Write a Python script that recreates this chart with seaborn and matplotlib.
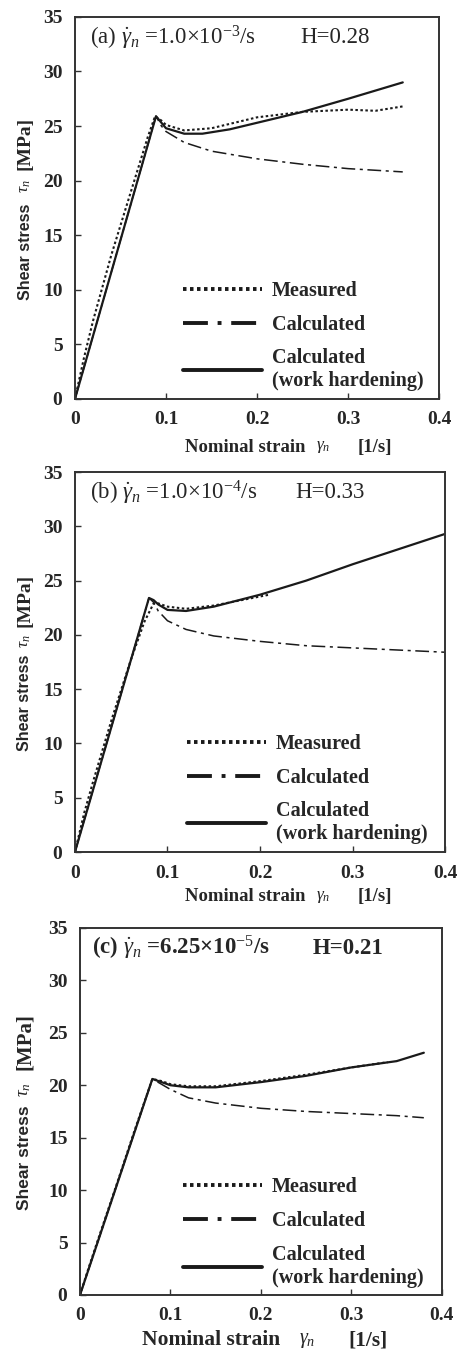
import numpy as np
import pandas as pd
import matplotlib
matplotlib.use("Agg")
import matplotlib.pyplot as plt
import seaborn as sns

# ---------------------------------------------------------------
# Data (strain [-], stress [MPa])
# ---------------------------------------------------------------
# (a) rate 1.0e-3/s, H=0.28
a_meas_x = [0, 0.01, 0.02, 0.04, 0.06, 0.08, 0.088, 0.095, 0.10, 0.12, 0.15, 0.18, 0.20, 0.25, 0.30, 0.33, 0.36]
a_meas_y = [0, 3.8, 7.2, 13.2, 18.6, 24.0, 25.9, 25.5, 25.1, 24.6, 24.8, 25.4, 25.8, 26.3, 26.5, 26.4, 26.8]
a_calc_x = [0, 0.089, 0.095, 0.10, 0.12, 0.15, 0.20, 0.25, 0.30, 0.36]
a_calc_y = [0, 25.9, 25.0, 24.5, 23.5, 22.7, 22.0, 21.5, 21.1, 20.8]
a_hard_x = [0, 0.089, 0.095, 0.10, 0.12, 0.14, 0.17, 0.20, 0.25, 0.30, 0.36]
a_hard_y = [0, 25.9, 25.3, 24.8, 24.3, 24.3, 24.7, 25.3, 26.3, 27.5, 29.0]

# (b) rate 1.0e-4/s, H=0.33
b_meas_x = [0, 0.01, 0.02, 0.04, 0.06, 0.075, 0.085, 0.09, 0.10, 0.12, 0.15, 0.18, 0.21]
b_meas_y = [0, 3.6, 6.6, 12.3, 17.6, 21.2, 22.9, 22.9, 22.6, 22.4, 22.7, 23.2, 23.7]
b_calc_x = [0, 0.08, 0.085, 0.09, 0.10, 0.12, 0.15, 0.20, 0.25, 0.30, 0.35, 0.40]
b_calc_y = [0, 23.4, 23.0, 22.2, 21.3, 20.5, 19.9, 19.4, 19.0, 18.8, 18.6, 18.4]
b_hard_x = [0, 0.08, 0.085, 0.09, 0.10, 0.12, 0.15, 0.20, 0.25, 0.30, 0.35, 0.40]
b_hard_y = [0, 23.4, 23.2, 22.8, 22.3, 22.2, 22.6, 23.7, 25.0, 26.5, 27.9, 29.3]

# (c) rate 6.25e-5/s, H=0.21
c_meas_x = [0, 0.01, 0.02, 0.04, 0.06, 0.08, 0.09, 0.10, 0.12, 0.15, 0.20, 0.25, 0.30, 0.34]
c_meas_y = [0, 2.7, 5.3, 10.4, 15.6, 20.6, 20.4, 20.1, 19.9, 19.9, 20.4, 21.0, 21.7, 22.2]
c_calc_x = [0, 0.08, 0.09, 0.10, 0.12, 0.15, 0.20, 0.25, 0.30, 0.35, 0.38]
c_calc_y = [0, 20.6, 20.1, 19.6, 18.8, 18.3, 17.8, 17.5, 17.3, 17.1, 16.9]
c_hard_x = [0, 0.08, 0.09, 0.10, 0.12, 0.15, 0.20, 0.25, 0.30, 0.35, 0.38]
c_hard_y = [0, 20.6, 20.3, 20.0, 19.8, 19.8, 20.3, 20.9, 21.7, 22.3, 23.1]

rate_labels = [
    r"(a) $\dot{\gamma}_n$ =1.0×10$^{-3}$/s",
    r"(b) $\dot{\gamma}_n$ =1.0×10$^{-4}$/s",
    r"(c) $\dot{\gamma}_n$ =6.25×10$^{-5}$/s",
]
h_labels = ["H=0.28", "H=0.33", "H=0.21"]
series_labels = ["Measured", "Calculated", "Calculated\n(work hardening)"]

panels = [
    (a_meas_x, a_meas_y, a_calc_x, a_calc_y, a_hard_x, a_hard_y),
    (b_meas_x, b_meas_y, b_calc_x, b_calc_y, b_hard_x, b_hard_y),
    (c_meas_x, c_meas_y, c_calc_x, c_calc_y, c_hard_x, c_hard_y),
]

# ---------------------------------------------------------------
# Layout (figure fractions / axes fractions)
# ---------------------------------------------------------------
boxes = [
    [0.164, 0.7073, 0.797, 0.2803],
    [0.164, 0.3749, 0.810, 0.2788],
    [0.175, 0.0499, 0.792, 0.2693],
]
title_weight = ["normal", "normal", "bold"]
title_size = [16.5, 16.5, 16.5]
title_x = [0.041, 0.041, 0.033]
h_x = [0.618, 0.595, 0.644]
ylab_x = [-0.137, -0.135, -0.152]
ylab_y = [(0.385, 0.558, 0.668), (0.392, 0.555, 0.663), (0.373, 0.560, 0.690)]
ylab_size = [11.5, 11.5, 12.5]
xlab_x = [(0.467, 0.681, 0.824), (0.459, 0.670, 0.811), (0.362, 0.627, 0.796)]
xlab_y = [-0.126, -0.118, -0.123]
xlab_size = [13.5, 13.5, 15.5]
leg_x = [0.297, 0.303, 0.285]

sns.set_style("ticks")
plt.rcParams["font.family"] = ["Liberation Serif", "DejaVu Serif"]
plt.rcParams["mathtext.fontset"] = "custom"
plt.rcParams["mathtext.rm"] = "Liberation Serif"
plt.rcParams["mathtext.it"] = "Liberation Serif:italic"
plt.rcParams["mathtext.bf"] = "Liberation Serif:bold"

fig = plt.figure(figsize=(4.57, 13.63), dpi=100)

styles = [(0, (1.2, 1.2)), (0, (9, 3, 2, 3)), "-"]
leg_styles = [(0, (0.9, 0.9)), (0, (6.4, 2.5, 1, 2.5)), "-"]
widths = [1.5, 1.1, 1.6]
ink = "#1a1a1a"

for i, (mx, my, cx, cy, hx, hy) in enumerate(panels):
    ax = fig.add_axes(boxes[i])
    frames = [pd.DataFrame({"x": mx, "y": my}),
              pd.DataFrame({"x": cx, "y": cy}),
              pd.DataFrame({"x": hx, "y": hy})]
    for d, ls, lw, lab in zip(frames, styles, widths, series_labels):
        sns.lineplot(data=d, x="x", y="y", ax=ax, color=ink,
                     linestyle=ls, linewidth=lw, label=lab, sort=False)

    ax.set_xlim(0, 0.4)
    ax.set_ylim(0, 35)
    ax.set_xticks([0, 0.1, 0.2, 0.3, 0.4])
    ax.set_xticklabels(["0", "0.1", "0.2", "0.3", "0.4"])
    ax.set_yticks(range(0, 36, 5))
    ax.tick_params(direction="in", length=4, width=1, labelsize=14,
                   color="#333333")
    ax.tick_params(axis="y", pad=9)
    ax.tick_params(axis="x", pad=9)
    for t in ax.get_xticklabels() + ax.get_yticklabels():
        t.set_fontweight("bold")
    for s in ax.spines.values():
        s.set_visible(True)
        s.set_linewidth(1.4)
        s.set_color("#333333")
    ax.set_xlabel("")
    ax.set_ylabel("")

    # y label pieces: sans "Shear stress", italic tau, serif [MPa]
    yx = ylab_x[i]
    ys, yt, ym = ylab_y[i]
    ax.text(yx, ys, "Shear stress", transform=ax.transAxes, rotation=90,
            ha="center", va="center", fontsize=ylab_size[i], fontweight="bold",
            family=["Liberation Sans", "DejaVu Sans"])
    ax.text(yx, yt, r"$\tau_n$", transform=ax.transAxes, rotation=90,
            ha="center", va="center", fontsize=ylab_size[i] + 1)
    ax.text(yx, ym, "[MPa]", transform=ax.transAxes, rotation=90,
            ha="center", va="center", fontsize=ylab_size[i] + 2.5,
            fontweight="bold")

    # x label pieces
    xn, xg, xu = xlab_x[i]
    ax.text(xn, xlab_y[i], "Nominal strain", transform=ax.transAxes,
            ha="center", va="center", fontsize=xlab_size[i], fontweight="bold")
    ax.text(xg, xlab_y[i], r"$\gamma_n$", transform=ax.transAxes,
            ha="center", va="center", fontsize=xlab_size[i] - 1)
    ax.text(xu, xlab_y[i], "[1/s]", transform=ax.transAxes,
            ha="center", va="center", fontsize=xlab_size[i], fontweight="bold")

    # panel title
    ax.text(title_x[i], 0.945, rate_labels[i], transform=ax.transAxes,
            fontsize=title_size[i], fontweight=title_weight[i],
            va="center", ha="left")
    ax.text(h_x[i], 0.945, h_labels[i], transform=ax.transAxes,
            fontsize=title_size[i], fontweight=title_weight[i],
            va="center", ha="left")

    leg = ax.legend(loc="lower left", bbox_to_anchor=(leg_x[i], 0.02),
                    frameon=False, borderpad=0, borderaxespad=0,
                    handlelength=3.9, handletextpad=0.5,
                    labelspacing=0.68, prop={"weight": "bold", "size": 14.5})
    for h, ls in zip(leg.get_lines(), leg_styles):
        h.set_linewidth(2.8)
        h.set_linestyle(ls)

fig.savefig("out.png", dpi=100)
